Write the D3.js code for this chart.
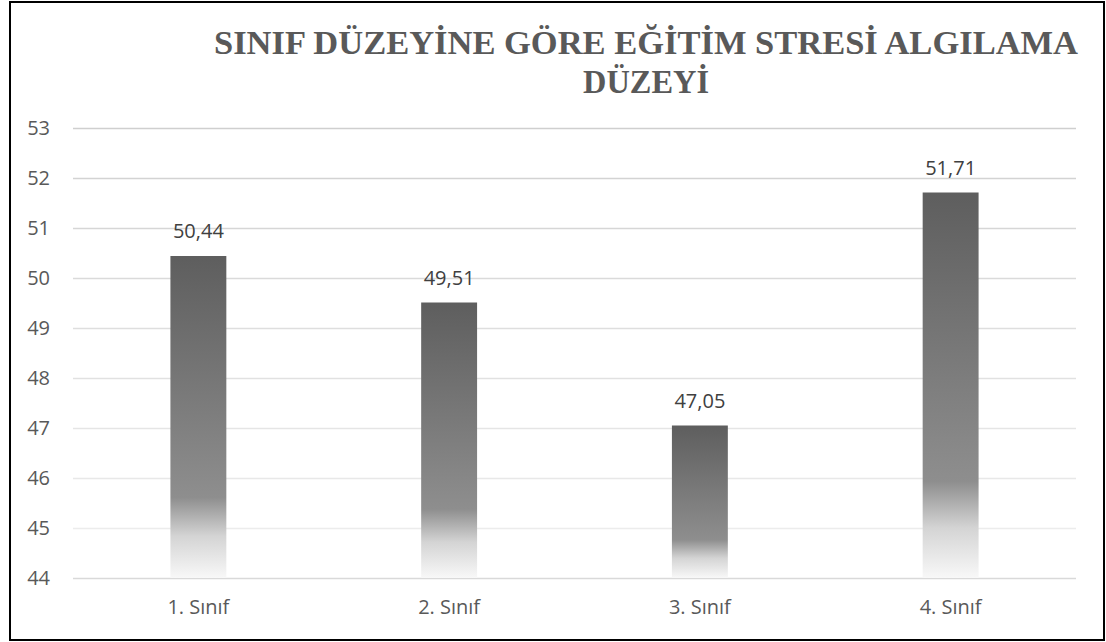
<!DOCTYPE html>
<html>
<head>
<meta charset="utf-8">
<script src="https://cdn.jsdelivr.net/npm/d3@7"></script>
<style>
  html, body { margin: 0; padding: 0; background: #ffffff; }
  svg { display: block; }
</style>
</head>
<body>
<svg id="chart" width="1106" height="642"></svg>
<script>
const titleLines = ["SINIF DÜZEYİNE GÖRE EĞİTİM STRESİ ALGILAMA", "DÜZEYİ"];
const categories = ["1. Sınıf", "2. Sınıf", "3. Sınıf", "4. Sınıf"];
const values = [50.44, 49.51, 47.05, 51.71];
const valueLabels = ["50,44", "49,51", "47,05", "51,71"];
const yTicks = [44, 45, 46, 47, 48, 49, 50, 51, 52, 53];

const svg = d3.select("#chart");
const W = 1106, H = 642;
const margin = { left: 73, right: 30, top: 128, bottom: 64 };

// outer frame
svg.append("rect")
  .attr("x", 10).attr("y", 2)
  .attr("width", 1094).attr("height", 638)
  .attr("fill", "#ffffff")
  .attr("stroke", "#000000").attr("stroke-width", 2);

const x = d3.scaleBand()
  .domain(categories)
  .range([margin.left, W - margin.right])
  .paddingInner(0.777).paddingOuter(0.3885);

const y = d3.scaleLinear()
  .domain([44, 53])
  .range([H - margin.bottom, margin.top]);

// gradient
const defs = svg.append("defs");
const grad = defs.append("linearGradient")
  .attr("id", "barGrad")
  .attr("x1", 0).attr("y1", 0).attr("x2", 0).attr("y2", 1);
[[0, "#5e5e5e"], [0.75, "#8e8e8e"], [0.87, "#d4d4d4"], [1, "#f8f8f8"]]
  .forEach(([o, c]) => grad.append("stop").attr("offset", o).attr("stop-color", c));

// gridlines
const gridColor = d3.scaleLinear().domain([44, 45, 53]).range(["#d9d9d9", "#ececec", "#cfcfcf"]);
const yAxis = d3.axisLeft(y).tickValues(yTicks)
  .tickSize(-(W - margin.right - margin.left)).tickPadding(23)
  .tickFormat(d3.format("d"));
const gy = svg.append("g")
  .attr("transform", `translate(${margin.left},0)`)
  .call(yAxis);
gy.select(".domain").remove();
gy.selectAll(".tick line")
  .attr("stroke", d => gridColor(d))
  .attr("stroke-width", 1.5);
gy.selectAll(".tick text")
  .attr("fill", "#595959")
  .attr("font-family", "'Open Sans', sans-serif")
  .attr("font-size", 20);

// bars
svg.append("g").selectAll("rect")
  .data(values)
  .join("rect")
  .attr("x", (d, i) => x(categories[i]))
  .attr("y", d => y(d))
  .attr("width", x.bandwidth())
  .attr("height", d => y(44) - y(d))
  .attr("fill", "url(#barGrad)");

// value labels
svg.append("g").selectAll("text")
  .data(values)
  .join("text")
  .attr("x", (d, i) => x(categories[i]) + x.bandwidth() / 2)
  .attr("y", d => y(d) - 18)
  .attr("text-anchor", "middle")
  .attr("fill", "#404040")
  .attr("font-family", "'Open Sans', sans-serif")
  .attr("font-size", 20)
  .text((d, i) => valueLabels[i]);

// x axis labels
const xAxis = d3.axisBottom(x).tickSize(0).tickPadding(22);
const gx = svg.append("g")
  .attr("transform", `translate(0,${y(44)})`)
  .call(xAxis);
gx.select(".domain").remove();
gx.selectAll(".tick text")
  .attr("fill", "#595959")
  .attr("font-family", "'Open Sans', sans-serif")
  .attr("font-size", 20);

// title
const titleWidths = [864, 126];
const title = svg.append("text")
  .attr("text-anchor", "middle")
  .attr("fill", "#595959")
  .attr("font-family", "'Liberation Serif', 'Times New Roman', serif")
  .attr("font-weight", "bold")
  .attr("font-size", 34);
title.selectAll("tspan")
  .data(titleLines)
  .join("tspan")
  .attr("x", 646)
  .attr("y", (d, i) => 54 + i * 39)
  .attr("textLength", (d, i) => titleWidths[i])
  .attr("lengthAdjust", "spacingAndGlyphs")
  .text(d => d);
</script>
</body>
</html>
